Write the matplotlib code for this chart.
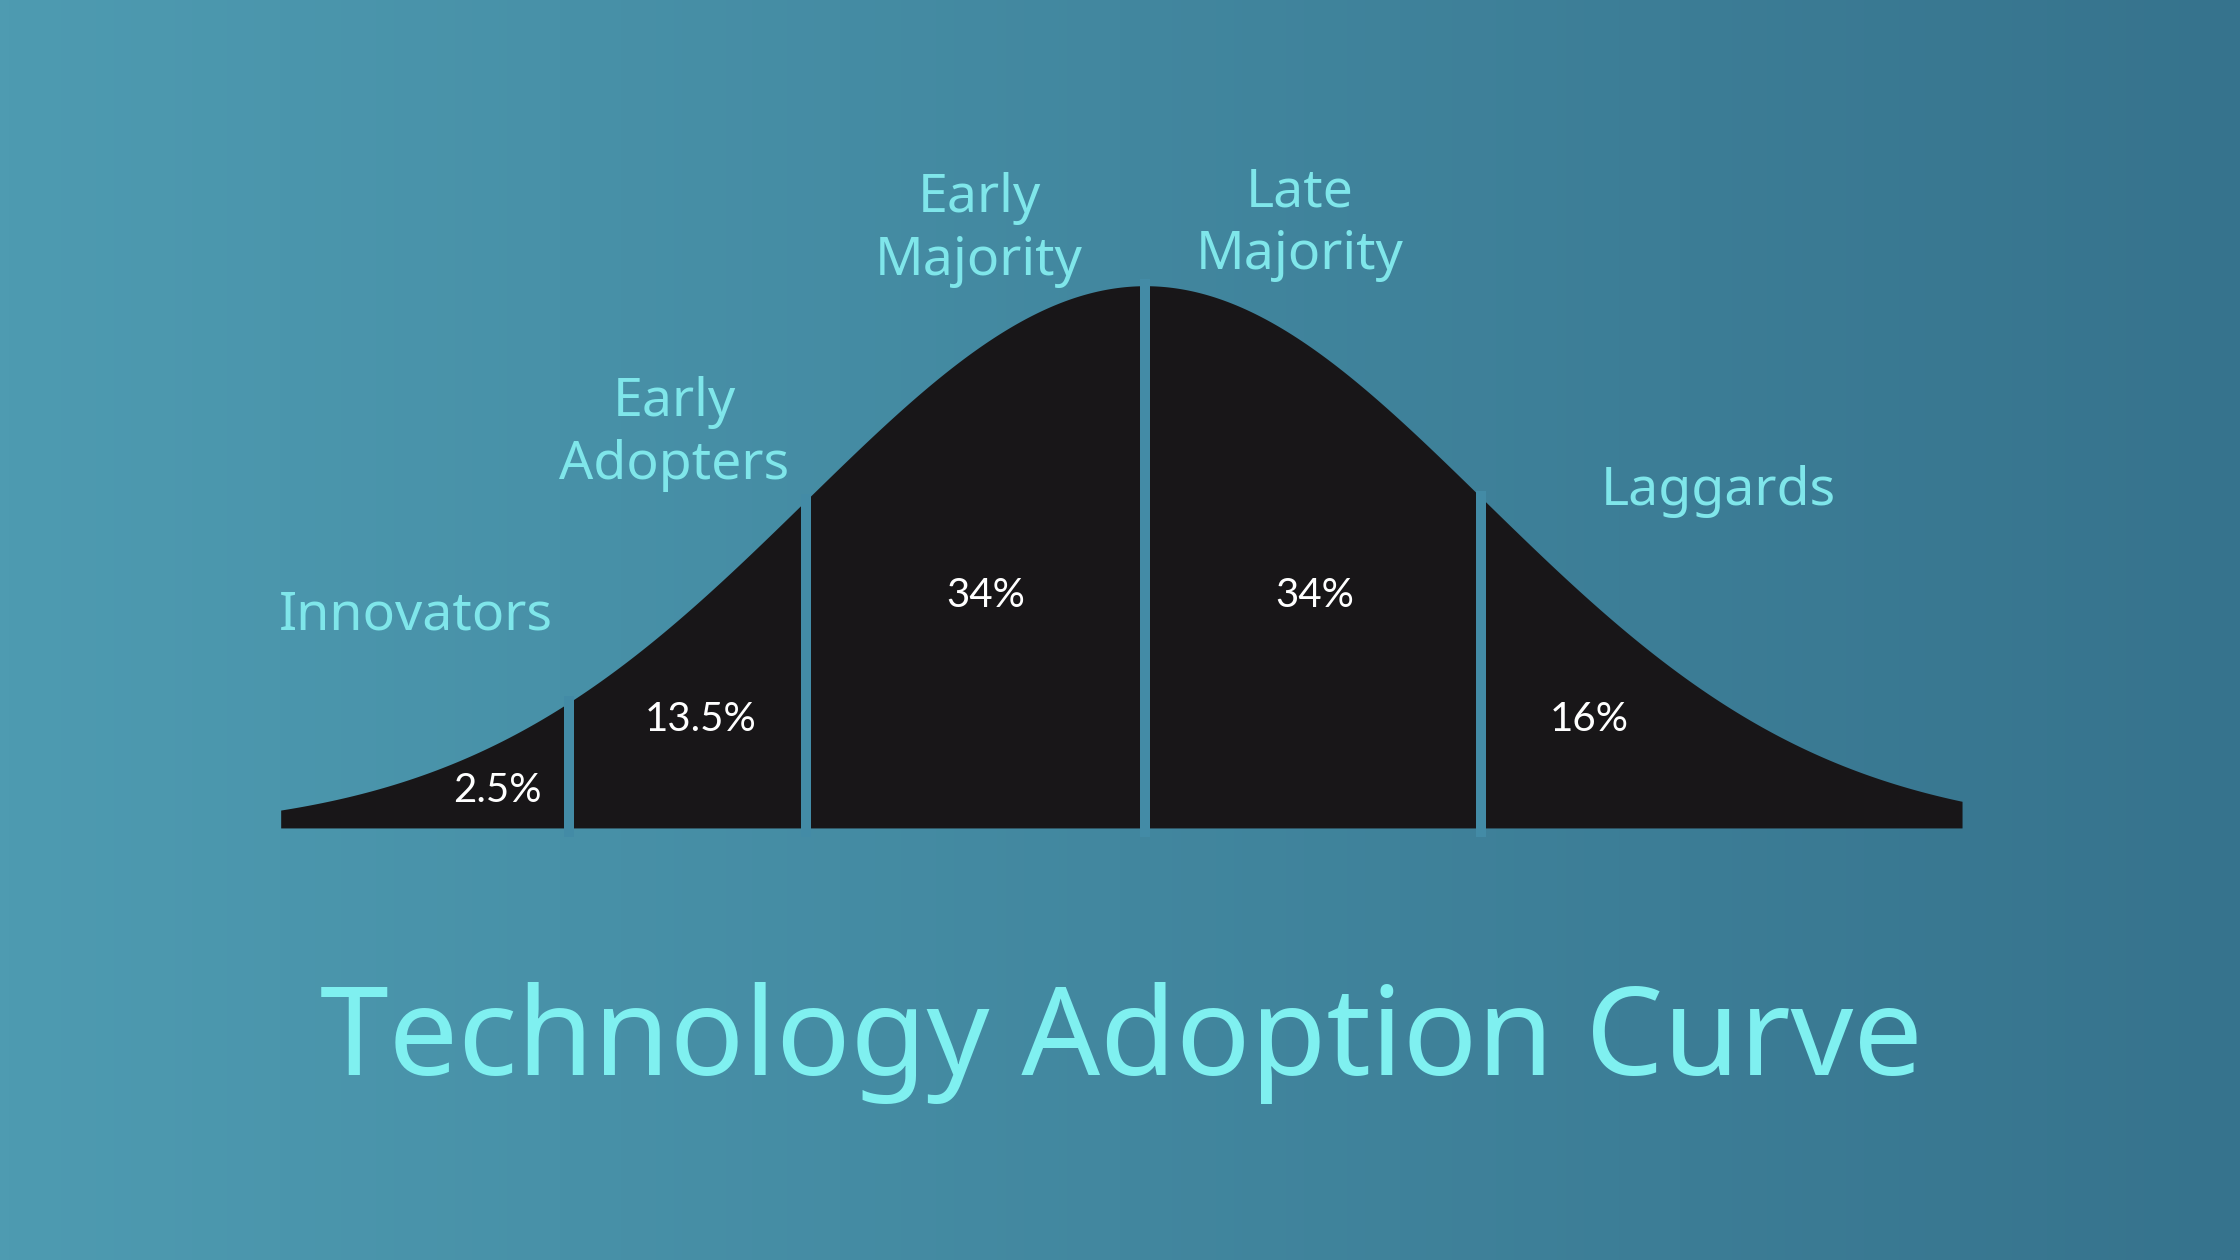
import numpy as np
import matplotlib.pyplot as plt
from matplotlib.colors import LinearSegmentedColormap

# Segments of the adoption curve (x in standard deviations from the mean)
segments = ['Innovators', 'Early\nAdopters', 'Early\nMajority', 'Late\nMajority', 'Laggards']
shares = ['2.5%', '13.5%', '34%', '34%', '16%']
edges = [-2.55, -1.70, -1.00, 0.00, 0.99, 2.41]

# Label positions (x in sd, y in curve-height units)
name_xy = [(-2.15, 0.392), (-1.39, 0.73), (-0.49, 1.107), (0.457, 1.118), (1.69, 0.623)]
share_xy = [(-1.91, 0.07), (-1.31, 0.20), (-0.47, 0.43), (0.50, 0.43), (1.31, 0.20)]

TITLE = 'Technology Adoption Curve'

bg_left = '#4e9bb1'
bg_right = '#36738d'
curve_color = '#181618'
label_color = '#7fe6ea'
title_color = '#7ff0f0'
gap_color = '#438ba6'

fig = plt.figure(figsize=(11.2, 6.3), dpi=200)
ax = fig.add_axes([0, 0, 1, 1])
ax.set_xlim(-3.378, 3.230)
ax.set_ylim(-0.800, 1.533)
ax.axis('off')

# Background gradient
cmap = LinearSegmentedColormap.from_list('bg', [bg_left, bg_right])
grad = np.linspace(0, 1, 512).reshape(1, -1)
ax.imshow(grad, cmap=cmap, aspect='auto', extent=(-3.378, 3.230, -0.800, 1.533), zorder=0)

# Bell curve (normal density, peak scaled to about 1)
x = np.linspace(edges[0], edges[-1], 800)
y = 1.01 * np.exp(-x ** 2 / 2) - 0.006
ax.fill_between(x, 0, y, color=curve_color, lw=0, zorder=2)

# Dividers between segments
for e in edges[1:-1]:
    top = 1.01 * np.exp(-e ** 2 / 2) - 0.006
    ax.plot([e, e], [-0.016, top + 0.012], color=gap_color, lw=3.6,
            solid_capstyle='butt', zorder=3)

for name, (nx, ny) in zip(segments, name_xy):
    ax.text(nx, ny, name, color=label_color, fontsize=19.3, family='Noto Sans',
            ha='center', va='center', linespacing=1.25, zorder=4)

for s, (sx, sy) in zip(shares, share_xy):
    ax.text(sx, sy, s, color='white', fontsize=14.5, family='Lato',
            ha='center', va='center', zorder=4)

ax.text(-0.07, -0.399, TITLE, color=title_color, fontsize=44.4, family='Noto Sans',
        ha='center', va='center', zorder=4)

fig.savefig('out.png', dpi=200)
